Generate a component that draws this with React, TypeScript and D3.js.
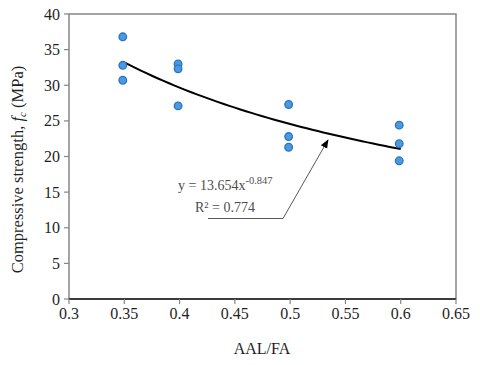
import React from 'react';
import { scaleLinear, line, range } from 'd3';

const ratios = [0.35, 0.35, 0.35, 0.4, 0.4, 0.4, 0.5, 0.5, 0.5, 0.6, 0.6, 0.6];
const strengths = [36.8, 32.8, 30.7, 33.0, 32.3, 27.1, 27.3, 22.8, 21.3, 24.4, 21.8, 19.4];
const xTicks = [0.3, 0.35, 0.4, 0.45, 0.5, 0.55, 0.6, 0.65];
const yTicks = [0, 5, 10, 15, 20, 25, 30, 35, 40];
// power trendline shown on the chart: y = 13.654x^-0.847
const fitA = 13.654;
const fitB = -0.847;

const W = 480;
const H = 365;
const M = { left: 69, right: 24, top: 14, bottom: 66 };
const FONT = '"Liberation Serif", "Times New Roman", serif';

export default function App() {
  const x = scaleLinear().domain([0.3, 0.65]).range([M.left, W - M.right]);
  const y = scaleLinear().domain([0, 40]).range([H - M.bottom, M.top]);

  const fitX = range(0.35, 0.6001, 0.005);
  const fitPath = line<number>()
    .x(d => x(d))
    .y(d => y(fitA * Math.pow(d, fitB)))(fitX);

  const tipX = 328;
  const tipY = 140;

  return (
    <svg
      width={W}
      height={H}
      style={{ position: 'absolute', left: 0, top: 0, background: '#fff' }}
      fontFamily={FONT}
    >
      <defs>
        <marker id="arrow" viewBox="0 0 10 10" refX="9" refY="5" markerWidth="9" markerHeight="9" orient="auto">
          <path d="M0,1 L10,5 L0,9 z" fill="#000" />
        </marker>
      </defs>

      {/* frame */}
      <rect
        x={M.left}
        y={M.top}
        width={W - M.left - M.right}
        height={H - M.top - M.bottom}
        fill="none"
        stroke="#868686"
        strokeWidth={1.5}
      />
      <line x1={M.left} x2={W - M.right} y1={y(0)} y2={y(0)} stroke="#1a1a1a" strokeWidth={1.5} />

      {/* y axis */}
      {yTicks.map(t => (
        <g key={'y' + t}>
          <line x1={M.left - 5} x2={M.left} y1={y(t)} y2={y(t)} stroke="#868686" strokeWidth={1.2} />
          <text x={M.left - 9} y={y(t)} dy="0.35em" textAnchor="end" fontSize={16} fill="#1f1f1f">
            {t}
          </text>
        </g>
      ))}

      {/* x axis */}
      {xTicks.map(t => (
        <g key={'x' + t}>
          <line x1={x(t)} x2={x(t)} y1={y(0)} y2={y(0) + 5} stroke="#868686" strokeWidth={1.2} />
          <text x={x(t)} y={y(0) + 20} textAnchor="middle" fontSize={16} fill="#1f1f1f">
            {t}
          </text>
        </g>
      ))}

      <text x={262} y={354} textAnchor="middle" fontSize={16} fill="#1f1f1f">AAL/FA</text>
      <text
        transform={`translate(23, ${(M.top + H - M.bottom) / 2 + 13}) rotate(-90)`}
        textAnchor="middle"
        fontSize={16.5}
        fill="#1f1f1f"
      >
        Compressive strength, <tspan fontStyle="italic">f</tspan>
        <tspan fontStyle="italic" fontSize={11} dy={3}>c</tspan>
        <tspan dy={-3}> (MPa)</tspan>
      </text>

      {/* trendline */}
      <path d={fitPath || ''} fill="none" stroke="#000" strokeWidth={2} />

      {/* points */}
      {ratios.map((r, i) => (
        <circle
          key={i}
          cx={x(r) - 1.5}
          cy={y(strengths[i])}
          r={3.8}
          fill="#4a9ae0"
          stroke="#2a72c4"
          strokeWidth={1.3}
        />
      ))}

      {/* equation label with leader */}
      <text x={178} y={190} fontSize={14} fill="#4d4d4d">
        y = 13.654x<tspan fontSize={10.5} dy={-6}>-0.847</tspan>
      </text>
      <text x={195} y={211.5} fontSize={14} fill="#4d4d4d">R² = 0.774</text>
      <polyline
        points={`208,218.5 283,218.5 ${tipX},${tipY}`}
        fill="none"
        stroke="#595959"
        strokeWidth={1}
        markerEnd="url(#arrow)"
      />
    </svg>
  );
}
